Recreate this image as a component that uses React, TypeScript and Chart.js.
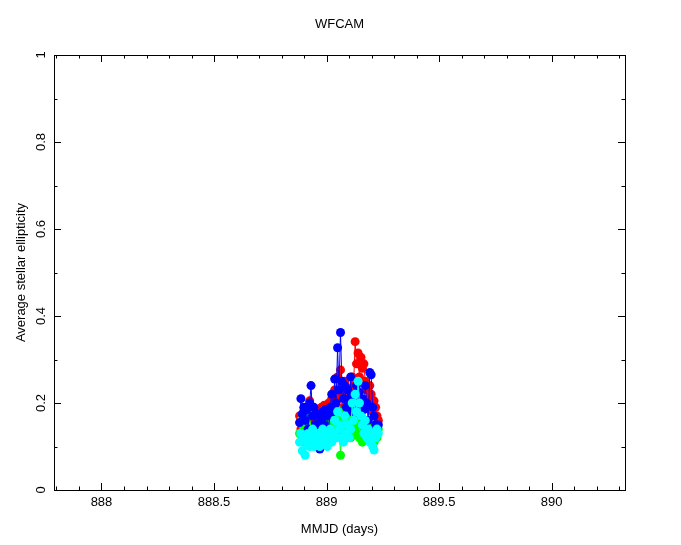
import React, { useEffect, useRef } from "react";
import { Chart, registerables } from "chart.js";

Chart.register(...registerables);

const chartTitle = "WFCAM";
const xTitle = "MMJD (days)";
const yTitle = "Average stellar ellipticity";

const xMin = 887.789;
const xMax = 890.326;
const yMin = 0;
const yMax = 1;

const xMajorTicks = [888, 888.5, 889, 889.5, 890];
const xTickLabels = ["888", "888.5", "889", "889.5", "890"];
const xMinorTicks = [887.8, 887.9, 888.1, 888.2, 888.3, 888.4, 888.6, 888.7, 888.8, 888.9, 889.1, 889.2, 889.3, 889.4, 889.6, 889.7, 889.8, 889.9, 890.1, 890.2, 890.3];
const yMajorTicks = [0, 0.2, 0.4, 0.6, 0.8, 1];
const yTickLabels = ["0", "0.2", "0.4", "0.6", "0.8", "1"];
const yMinorTicks = [0.1, 0.3, 0.5, 0.7, 0.9];

const mjd = [
  888.880, 888.886, 888.892, 888.899, 888.905, 888.912, 888.918, 888.925, 888.931, 888.938,
  888.944, 888.951, 888.957, 888.964, 888.970, 888.977, 888.983, 888.990, 888.996, 889.003,
  889.010, 889.016, 889.023, 889.029, 889.036, 889.042, 889.049, 889.055, 889.062, 889.068,
  889.075, 889.081, 889.088, 889.094, 889.101, 889.107, 889.114, 889.120, 889.127, 889.133,
  889.140, 889.146, 889.153, 889.159, 889.166, 889.172, 889.179, 889.185, 889.192, 889.198,
  889.205, 889.211, 889.218, 889.224, 889.230,
];

const blueValues = [
  0.155, 0.21, 0.175, 0.19, 0.16, 0.185, 0.14, 0.20, 0.24, 0.17,
  0.19, 0.15, 0.175, 0.13, 0.094, 0.16, 0.18, 0.15, 0.185, 0.17,
  0.14, 0.19, 0.22, 0.18, 0.255, 0.20, 0.327, 0.23, 0.362, 0.25,
  0.21, 0.24, 0.19, 0.23, 0.21, 0.26, 0.18, 0.22, 0.20, 0.24,
  0.19, 0.225, 0.17, 0.21, 0.185, 0.24, 0.20, 0.16, 0.27, 0.265,
  0.19, 0.17, 0.15, 0.14, 0.15,
];

const redValues = [
  0.17, 0.14, 0.16, 0.13, 0.18, 0.15, 0.17, 0.205, 0.16, 0.19,
  0.14, 0.17, 0.155, 0.18, 0.16, 0.19, 0.17, 0.195, 0.16, 0.175,
  0.20, 0.17, 0.21, 0.19, 0.23, 0.18, 0.26, 0.21, 0.276, 0.22,
  0.19, 0.25, 0.20, 0.23, 0.19, 0.21, 0.26, 0.24, 0.341, 0.29,
  0.315, 0.26, 0.305, 0.28, 0.29, 0.25, 0.23, 0.21, 0.24, 0.22,
  0.18, 0.205, 0.19, 0.17, 0.16,
];

const greenValues = [
  0.13, 0.16, 0.12, 0.14, 0.11, 0.15, 0.13, 0.17, 0.12, 0.14,
  0.11, 0.13, 0.15, 0.12, 0.14, 0.11, 0.13, 0.16, 0.12, 0.14,
  0.13, 0.15, 0.12, 0.17, 0.14, 0.19, 0.13, 0.16, 0.08, 0.14,
  0.18, 0.12, 0.15, 0.13, 0.17, 0.12, 0.15, 0.14, 0.19, 0.13,
  0.16, 0.12, 0.15, 0.11, 0.14, 0.12, 0.16, 0.13, 0.15, 0.12,
  0.14, 0.11, 0.13, 0.12, 0.14,
];

const cyanValues = [
  0.11, 0.13, 0.09, 0.12, 0.08, 0.11, 0.13, 0.10, 0.12, 0.14,
  0.10, 0.12, 0.11, 0.13, 0.10, 0.12, 0.14, 0.11, 0.13, 0.10,
  0.12, 0.14, 0.11, 0.13, 0.16, 0.12, 0.18, 0.14, 0.12, 0.15,
  0.11, 0.17, 0.13, 0.15, 0.12, 0.14, 0.20, 0.16, 0.22, 0.18,
  0.25, 0.20, 0.17, 0.15, 0.13, 0.16, 0.12, 0.14, 0.11, 0.13,
  0.10, 0.092, 0.12, 0.14, 0.13,
];

// first listed dataset is drawn on top
const seriesNames = ["cyan", "blue", "green", "red"];
const seriesColors = ["#00ffff", "#0000ff", "#00ff00", "#ff0000"];
const seriesValues = [cyanValues, blueValues, greenValues, redValues];

const FONT = "13px 'Liberation Sans', Arial, sans-serif";

const framePlugin = {
  id: "pgframe",
  afterDraw(chart: any) {
    const ctx = chart.ctx;
    const { left, right, top, bottom } = chart.chartArea;
    const xs = chart.scales.x;
    const ys = chart.scales.y;
    ctx.save();
    ctx.strokeStyle = "#000";
    ctx.lineWidth = 1;
    ctx.strokeRect(Math.round(left) + 0.5, Math.round(top) + 0.5, Math.round(right - left), Math.round(bottom - top));
    const major = 7;
    const minor = 3.5;
    ctx.beginPath();
    const xt = (v: number, len: number) => {
      const px = Math.round(xs.getPixelForValue(v)) + 0.5;
      ctx.moveTo(px, bottom);
      ctx.lineTo(px, bottom - len);
      ctx.moveTo(px, top);
      ctx.lineTo(px, top + len);
    };
    const yt = (v: number, len: number) => {
      const py = Math.round(ys.getPixelForValue(v)) + 0.5;
      ctx.moveTo(left, py);
      ctx.lineTo(left + len, py);
      ctx.moveTo(right, py);
      ctx.lineTo(right - len, py);
    };
    xMajorTicks.forEach((v) => xt(v, major));
    xMinorTicks.forEach((v) => xt(v, minor));
    yMajorTicks.forEach((v) => yt(v, major));
    yMinorTicks.forEach((v) => yt(v, minor));
    ctx.stroke();

    ctx.fillStyle = "#000";
    ctx.font = FONT;
    ctx.textAlign = "center";
    ctx.textBaseline = "middle";
    xMajorTicks.forEach((v, i) => {
      ctx.fillText(xTickLabels[i], xs.getPixelForValue(v), bottom + 12);
    });
    yMajorTicks.forEach((v, i) => {
      ctx.save();
      ctx.translate(left - 13, ys.getPixelForValue(v));
      ctx.rotate(-Math.PI / 2);
      ctx.fillText(yTickLabels[i], 0, 0);
      ctx.restore();
    });
    ctx.fillText(xTitle, (left + right) / 2, bottom + 39);
    ctx.fillText(chartTitle, (left + right) / 2, 24);
    ctx.save();
    ctx.translate(21, (top + bottom) / 2);
    ctx.rotate(-Math.PI / 2);
    ctx.fillText(yTitle, 0, 0);
    ctx.restore();
    ctx.restore();
  },
};

export default function App() {
  const ref = useRef<HTMLCanvasElement | null>(null);
  useEffect(() => {
    document.body.style.margin = "0";
    document.body.style.background = "#fff";
    const canvas = ref.current!;
    const chart = new Chart(canvas, {
      type: "line",
      data: {
        datasets: seriesValues.map((vals, i) => ({
          label: seriesNames[i],
          data: mjd.map((t, j) => ({ x: t, y: vals[j] })),
          borderColor: seriesColors[i],
          backgroundColor: seriesColors[i],
          pointBackgroundColor: seriesColors[i],
          pointBorderColor: seriesColors[i],
          pointRadius: 4.5,
          pointBorderWidth: 0,
          borderWidth: 1,
          tension: 0,
          fill: false,
        })),
      },
      options: {
        responsive: false,
        animation: false,
        events: [],
        layout: { padding: { left: 54, right: 56, top: 55, bottom: 55 } },
        plugins: {
          legend: { display: false },
          title: { display: false },
          tooltip: { enabled: false },
        },
        scales: {
          x: { type: "linear", min: xMin, max: xMax, display: false },
          y: { type: "linear", min: yMin, max: yMax, display: false },
        },
      },
      plugins: [framePlugin],
    });
    return () => chart.destroy();
  }, []);
  return (
    <div style={{ width: 681, height: 545, background: "#fff" }}>
      <canvas ref={ref} width={681} height={545} style={{ display: "block" }} />
    </div>
  );
}
